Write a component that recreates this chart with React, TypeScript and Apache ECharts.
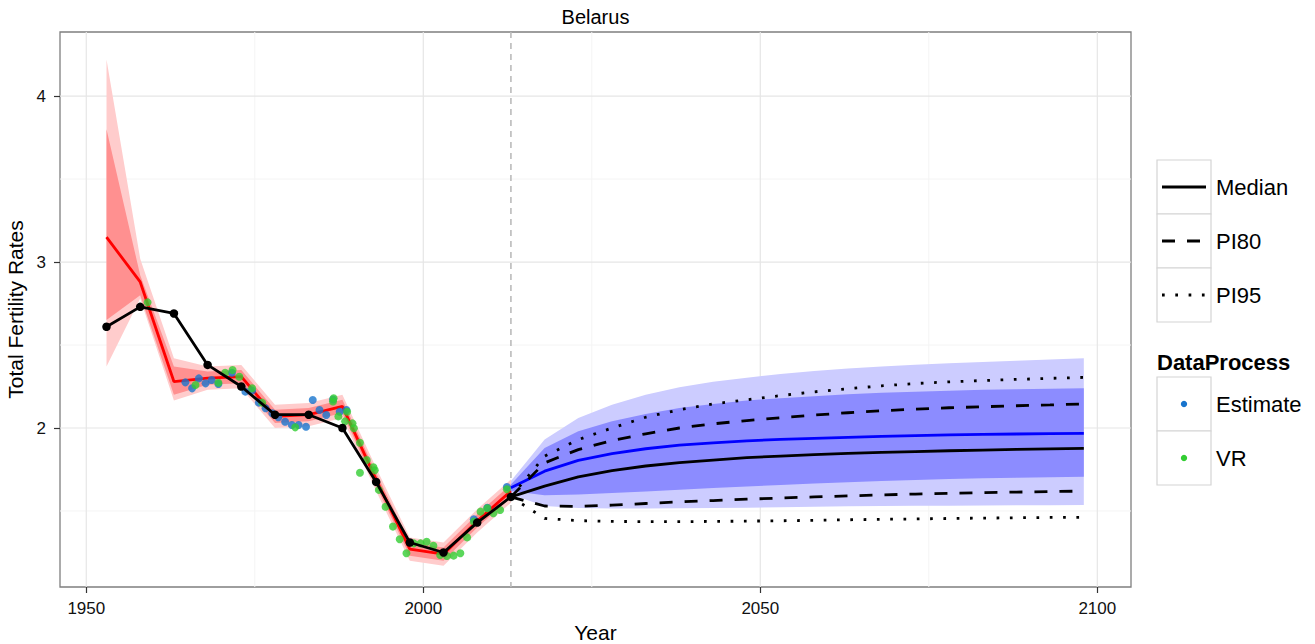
import React, { useEffect, useRef } from "react";
import * as echarts from "echarts";

// ---------- data ----------
const obsYears = [1953, 1958, 1963, 1968, 1973, 1978, 1983, 1988, 1993, 1998, 2003, 2008, 2013];
const redMedian = [3.15, 2.88, 2.28, 2.3, 2.31, 2.07, 2.08, 2.13, 1.69, 1.27, 1.24, 1.44, 1.62];
const red80Low = [2.65, 2.8, 2.2, 2.26, 2.27, 2.03, 2.04, 2.09, 1.65, 1.23, 1.2, 1.4, 1.58];
const red80High = [3.8, 2.92, 2.37, 2.34, 2.35, 2.11, 2.12, 2.17, 1.73, 1.31, 1.28, 1.48, 1.66];
const red95Low = [2.37, 2.78, 2.165, 2.23, 2.24, 2.0, 2.01, 2.06, 1.62, 1.2, 1.17, 1.37, 1.55];
const red95High = [4.22, 3.02, 2.42, 2.37, 2.38, 2.14, 2.15, 2.2, 1.76, 1.34, 1.31, 1.51, 1.69];
const unObserved = [2.61, 2.73, 2.69, 2.38, 2.25, 2.08, 2.08, 2.0, 1.675, 1.31, 1.25, 1.43, 1.585];

const projYears = [2013, 2018, 2023, 2028, 2033, 2038, 2043, 2048, 2053, 2058, 2063, 2068, 2073, 2078, 2083, 2088, 2093, 2098];
const blueMedian = [1.64, 1.74, 1.805, 1.845, 1.875, 1.897, 1.911, 1.923, 1.931, 1.938, 1.944, 1.949, 1.954, 1.958, 1.961, 1.964, 1.966, 1.968];
const blue80Low = [1.62, 1.595, 1.6, 1.608, 1.618, 1.628, 1.638, 1.648, 1.657, 1.665, 1.673, 1.68, 1.687, 1.692, 1.697, 1.701, 1.704, 1.707];
const blue80High = [1.66, 1.88, 1.98, 2.04, 2.085, 2.12, 2.145, 2.165, 2.18, 2.192, 2.203, 2.212, 2.219, 2.225, 2.23, 2.234, 2.237, 2.24];
const blue95Low = [1.6, 1.53, 1.518, 1.515, 1.515, 1.516, 1.518, 1.52, 1.523, 1.526, 1.528, 1.53, 1.531, 1.532, 1.533, 1.534, 1.535, 1.536];
const blue95High = [1.68, 1.93, 2.06, 2.14, 2.2, 2.245, 2.278, 2.303, 2.325, 2.343, 2.358, 2.37, 2.381, 2.39, 2.398, 2.405, 2.412, 2.42];

const projMedian = [1.585, 1.65, 1.705, 1.743, 1.771, 1.791, 1.807, 1.821, 1.831, 1.84, 1.847, 1.853, 1.858, 1.863, 1.867, 1.871, 1.874, 1.877];
const pi80Low = [1.585, 1.53, 1.528, 1.535, 1.545, 1.555, 1.563, 1.571, 1.578, 1.585, 1.591, 1.597, 1.602, 1.606, 1.61, 1.614, 1.617, 1.62];
const pi80High = [1.585, 1.79, 1.87, 1.925, 1.965, 2.0, 2.025, 2.045, 2.062, 2.078, 2.092, 2.104, 2.114, 2.122, 2.128, 2.134, 2.139, 2.145];
const pi95Low = [1.585, 1.455, 1.442, 1.437, 1.436, 1.436, 1.437, 1.439, 1.441, 1.444, 1.447, 1.45, 1.452, 1.455, 1.457, 1.459, 1.461, 1.462];
const pi95High = [1.585, 1.83, 1.93, 2.0, 2.065, 2.11, 2.145, 2.17, 2.195, 2.218, 2.237, 2.254, 2.268, 2.278, 2.286, 2.293, 2.299, 2.305];

const estimateYears = [1964.7, 1965.7, 1966.7, 1967.7, 1968.6, 1969.6, 1971.6, 1973.6, 1974.6, 1975.6, 1976.6, 1977.6, 1978.5, 1979.5, 1980.5, 1981.5, 1982.6, 1983.6, 1984.6, 1985.6, 1986.6, 1987.6, 1988.6, 2007.5, 2009.5, 2012.4];
const estimateValues = [2.275, 2.239, 2.299, 2.269, 2.289, 2.265, 2.333, 2.219, 2.225, 2.153, 2.119, 2.089, 2.065, 2.038, 2.018, 2.018, 2.008, 2.169, 2.108, 2.078, 2.172, 2.098, 2.108, 1.45, 1.52, 1.645];

const vrYears = [1959.1, 1966.2, 1969.6, 1970.6, 1971.7, 1972.7, 1974.6, 1976.1, 1981.0, 1986.6, 1986.7, 1987.4, 1988.4, 1988.7, 1989.5, 1989.7, 1990.6, 1990.6, 1991.6, 1992.6, 1992.8, 1993.4, 1994.4, 1995.5, 1996.5, 1997.5, 1998.6, 1999.6, 2000.5, 2001.5, 2002.5, 2003.5, 2004.5, 2005.5, 2006.5, 2007.5, 2008.5, 2009.5, 2010.4, 2011.4, 2012.4];
const vrValues = [2.757, 2.259, 2.273, 2.333, 2.349, 2.309, 2.239, 2.153, 2.004, 2.16, 2.179, 2.07, 2.04, 2.098, 2.028, 1.998, 1.911, 1.73, 1.807, 1.763, 1.745, 1.627, 1.526, 1.406, 1.33, 1.245, 1.305, 1.305, 1.315, 1.291, 1.235, 1.229, 1.231, 1.245, 1.341, 1.436, 1.496, 1.516, 1.486, 1.506, 1.631];

const xTicks = [1950, 2000, 2050, 2100];
const xMinorGrid = [1975, 2025, 2075];
const yTicks = [2, 3, 4];
const yMinorGrid = [1.5, 2.5, 3.5];
const projectionStart = 2013;

const legendLines = ["Median", "PI80", "PI95"];
const legendPoints = ["Estimate", "VR"];

// ---------- helpers ----------
const FONT = "'Liberation Sans', Arial, Helvetica, sans-serif";
const pairs = (xs: number[], ys: number[]) => xs.map((x, i) => [x, ys[i]]);

function band(name: string, years: number[], low: number[], high: number[], color: string, z: number) {
  return {
    name,
    type: "custom",
    coordinateSystem: "cartesian2d",
    silent: true,
    clip: true,
    z,
    data: [[years[0], low[0]]],
    encode: { x: 0, y: 1 },
    renderItem: (_p: any, api: any) => {
      const pts: number[][] = [];
      for (let i = 0; i < years.length; i++) pts.push(api.coord([years[i], high[i]]));
      for (let i = years.length - 1; i >= 0; i--) pts.push(api.coord([years[i], low[i]]));
      return { type: "polygon", shape: { points: pts }, style: { fill: color } };
    },
  };
}

function lineSeries(name: string, xs: number[], ys: number[], color: string, dash: any, z: number, width = 2.8) {
  return {
    name,
    type: "line",
    data: pairs(xs, ys),
    showSymbol: false,
    symbol: "none",
    silent: true,
    z,
    lineStyle: { color, width, type: dash, cap: "butt" },
  };
}

export default function App() {
  const ref = useRef<HTMLDivElement>(null);
  useEffect(() => {
    if (!ref.current) return;
    const chart = echarts.init(ref.current, undefined, { renderer: "svg" });

    const gridSeries = {
      type: "custom",
      coordinateSystem: "cartesian2d",
      silent: true,
      clip: true,
      z: 0,
      data: [[xTicks[0], yTicks[0]]],
      encode: { x: 0, y: 1 },
      renderItem: (params: any, api: any) => {
        const cs = params.coordSys;
        const kids: any[] = [];
        const vline = (x: number, color: string, w: number, dash?: number[]) => {
          const px = api.coord([x, yTicks[0]])[0];
          kids.push({
            type: "line",
            shape: { x1: px, y1: cs.y, x2: px, y2: cs.y + cs.height },
            style: { stroke: color, lineWidth: w, lineDash: dash },
          });
        };
        const hline = (y: number, color: string, w: number) => {
          const py = api.coord([xTicks[0], y])[1];
          kids.push({
            type: "line",
            shape: { x1: cs.x, y1: py, x2: cs.x + cs.width, y2: py },
            style: { stroke: color, lineWidth: w },
          });
        };
        xMinorGrid.forEach((x) => vline(x, "#f4f4f4", 1));
        yMinorGrid.forEach((y) => hline(y, "#f4f4f4", 1));
        xTicks.forEach((x) => vline(x, "#e6e6e6", 1.2));
        yTicks.forEach((y) => hline(y, "#e6e6e6", 1.2));
        vline(projectionStart, "#bbbbbb", 1.6, [6, 5]);
        return { type: "group", children: kids };
      },
    };

    const legendG: any[] = [];
    const boxX = 1157, boxW = 54, rowH = 54;
    legendLines.forEach((label, i) => {
      const top = 160 + i * rowH;
      const cy = top + rowH / 2;
      legendG.push({ type: "rect", shape: { x: boxX, y: top, width: boxW, height: rowH }, style: { fill: "#fff", stroke: "#d4d4d4", lineWidth: 1.2 } });
      const dash = i === 0 ? undefined : i === 1 ? [13, 12] : [2.7, 10.6];
      legendG.push({ type: "line", shape: { x1: 1162, y1: cy, x2: 1206, y2: cy }, style: { stroke: "#000", lineWidth: 2.8, lineDash: dash, lineCap: "butt" } });
      legendG.push({ type: "text", x: 1216, y: cy, style: { text: label, fontSize: 22, fontFamily: FONT, fill: "#000", verticalAlign: "middle", align: "left" } });
    });
    legendG.push({ type: "text", x: 1157, y: 362, style: { text: "DataProcess", fontSize: 22, fontWeight: "bold", fontFamily: FONT, fill: "#000", verticalAlign: "middle", align: "left" } });
    const ptColors = ["#1874cd", "#32cd32"];
    legendPoints.forEach((label, i) => {
      const top = 377 + i * rowH;
      const cy = top + rowH / 2;
      legendG.push({ type: "rect", shape: { x: boxX, y: top, width: boxW, height: rowH }, style: { fill: "#fff", stroke: "#d4d4d4", lineWidth: 1.2 } });
      legendG.push({ type: "circle", shape: { cx: boxX + boxW / 2, cy, r: 3.2 }, style: { fill: ptColors[i] } });
      legendG.push({ type: "text", x: 1216, y: cy, style: { text: label, fontSize: 22, fontFamily: FONT, fill: "#000", verticalAlign: "middle", align: "left" } });
    });
    legendG.push({ type: "text", x: 595.5, y: 17, style: { text: "Belarus", fontSize: 20, fontFamily: FONT, fill: "#000", verticalAlign: "middle", align: "center" } });

    const fmt = (v: number) => String(Math.round(v));

    chart.setOption({
      animation: false,
      backgroundColor: "#fff",
      grid: {
        left: 60, top: 32, right: 184, bottom: 57,
        containLabel: false, outerBoundsMode: "none",
        show: true, borderColor: "#7f7f7f", borderWidth: 1.3, backgroundColor: "#fff",
      },
      xAxis: {
        type: "value",
        min: 1946.1,
        max: 2105,
        splitLine: { show: false },
        axisLine: { show: false },
        axisTick: { show: true, length: 6, customValues: xTicks, lineStyle: { color: "#333", width: 1.2 } },
        axisLabel: { customValues: xTicks, formatter: fmt, fontSize: 17, fontFamily: FONT, color: "#111", margin: 13 },
        name: "Year",
        nameLocation: "middle",
        nameGap: 31,
        nameTextStyle: { fontSize: 21, fontFamily: FONT, color: "#000" },
      },
      yAxis: {
        type: "value",
        min: 1.042,
        max: 4.386,
        splitLine: { show: false },
        axisLine: { show: false },
        axisTick: { show: true, length: 6, customValues: yTicks, lineStyle: { color: "#333", width: 1.2 } },
        axisLabel: { customValues: yTicks, formatter: fmt, fontSize: 17, fontFamily: FONT, color: "#111", margin: 14 },
        name: "Total Fertility Rates",
        nameLocation: "middle",
        nameGap: 27,
        nameTextStyle: { fontSize: 21, fontFamily: FONT, color: "#000" },
      },
      graphic: legendG,
      series: [
        gridSeries,
        band("red95", obsYears, red95Low, red95High, "#ffcccc", 1),
        band("red80", obsYears, red80Low, red80High, "#ff9090", 1),
        band("blue95", projYears, blue95Low, blue95High, "#ccccff", 1),
        band("blue80", projYears, blue80Low, blue80High, "#8c8cff", 1),
        lineSeries("Estimated median", obsYears, redMedian, "#ff0000", "solid", 2),
        lineSeries("Projected median (blue)", projYears, blueMedian, "#0000ff", "solid", 2),
        {
          name: "Estimate",
          type: "scatter",
          data: pairs(estimateYears, estimateValues),
          symbolSize: 8,
          itemStyle: { color: "#1874cd" },
          silent: true,
          z: 3,
        },
        {
          name: "VR",
          type: "scatter",
          data: pairs(vrYears, vrValues),
          symbolSize: 8,
          itemStyle: { color: "#32cd32" },
          silent: true,
          z: 3,
        },
        lineSeries("PI95 high", projYears, pi95High, "#000", [2.7, 10.6], 4),
        lineSeries("PI95 low", projYears, pi95Low, "#000", [2.7, 10.6], 4),
        lineSeries("PI80 high", projYears, pi80High, "#000", [13, 12], 4),
        lineSeries("PI80 low", projYears, pi80Low, "#000", [13, 12], 4),
        lineSeries("Median", projYears, projMedian, "#000", "solid", 4),
        {
          name: "Observed",
          type: "line",
          data: pairs(obsYears, unObserved),
          symbol: "circle",
          symbolSize: 8.5,
          showSymbol: true,
          silent: true,
          z: 5,
          lineStyle: { color: "#000", width: 2.8 },
          itemStyle: { color: "#000" },
        },
      ],
    });
    return () => chart.dispose();
  }, []);
  return <div ref={ref} style={{ position: "fixed", left: 0, top: 0, width: 1315, height: 644 }} />;
}
